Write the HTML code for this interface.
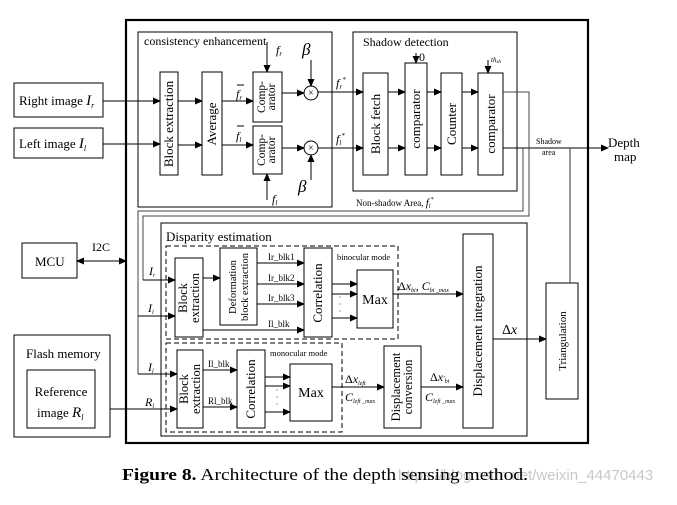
<!DOCTYPE html>
<html><head><meta charset="utf-8"><style>
html,body{margin:0;padding:0;background:#fff;}
svg{display:block;font-family:"Liberation Serif",serif;}
</style></head><body>
<svg width="677" height="505" viewBox="0 0 677 505" xmlns="http://www.w3.org/2000/svg">
<defs>
<marker id="a" markerWidth="8" markerHeight="8" refX="7" refY="4" orient="auto" markerUnits="userSpaceOnUse"><path d="M0,0.5 L8,4 L0,7.5 z" fill="#000"/></marker>
<marker id="b" markerWidth="8" markerHeight="8" refX="1" refY="4" orient="auto" markerUnits="userSpaceOnUse"><path d="M8,0.5 L0,4 L8,7.5 z" fill="#000"/></marker>
</defs>
<g fill="none" stroke="#000" stroke-width="1">
<rect x="126" y="20" width="462" height="423" stroke-width="2.2"/>
<rect x="14" y="83" width="89" height="34"/>
<rect x="14" y="128" width="89" height="30"/>
<rect x="22" y="243" width="55" height="35"/>
<rect x="14" y="335" width="96" height="102"/>
<rect x="27" y="370" width="68" height="58"/>
<rect x="138" y="32" width="194" height="175"/>
<rect x="160" y="72" width="18" height="103"/>
<rect x="202" y="72" width="20" height="103"/>
<rect x="253" y="72" width="29" height="50"/>
<rect x="253" y="126" width="29" height="48"/>
<circle cx="311" cy="93" r="7"/>
<circle cx="311" cy="148" r="7"/>
<rect x="353" y="32" width="164" height="159"/>
<rect x="363" y="73" width="25" height="102"/>
<rect x="405" y="63" width="22" height="112"/>
<rect x="441" y="73" width="21" height="102"/>
<rect x="478" y="73" width="25" height="102"/>
<rect x="161" y="223" width="366" height="213"/>
<rect x="166" y="246" width="232" height="93" stroke-dasharray="5,3"/>
<rect x="166" y="343" width="176" height="89" stroke-dasharray="5,3"/>
<rect x="175" y="258" width="28" height="79"/>
<rect x="220" y="248" width="37" height="77"/>
<rect x="304" y="248" width="28" height="89"/>
<rect x="357" y="270" width="36" height="58"/>
<rect x="463" y="234" width="30" height="194"/>
<rect x="177" y="350" width="26" height="78"/>
<rect x="237" y="350" width="28" height="78"/>
<rect x="290" y="364" width="42" height="57"/>
<rect x="384" y="346" width="37" height="82"/>
<rect x="546" y="283" width="32" height="116"/>
<line x1="103" y1="101" x2="160" y2="101" marker-end="url(#a)"/>
<line x1="103" y1="144" x2="160" y2="144" marker-end="url(#a)"/>
<line x1="77" y1="261" x2="126" y2="261" marker-start="url(#b)" marker-end="url(#a)"/>
<line x1="110" y1="409" x2="177" y2="409" marker-end="url(#a)"/>
<line x1="178" y1="101" x2="202" y2="101" marker-end="url(#a)"/>
<line x1="178" y1="145" x2="202" y2="145" marker-end="url(#a)"/>
<line x1="222" y1="101" x2="253" y2="101" marker-end="url(#a)"/>
<line x1="222" y1="145" x2="253" y2="145" marker-end="url(#a)"/>
<line x1="282" y1="93" x2="304" y2="93" marker-end="url(#a)"/>
<line x1="282" y1="148" x2="304" y2="148" marker-end="url(#a)"/>
<line x1="267" y1="42" x2="267" y2="72" marker-end="url(#a)"/>
<line x1="267" y1="200" x2="267" y2="174" marker-end="url(#a)"/>
<line x1="311" y1="60" x2="311" y2="86" marker-end="url(#a)"/>
<line x1="311" y1="180" x2="311" y2="155" marker-end="url(#a)"/>
<line x1="318" y1="92" x2="363" y2="92" marker-end="url(#a)"/>
<line x1="318" y1="148" x2="363" y2="148" marker-end="url(#a)"/>
<line x1="388" y1="92" x2="405" y2="92" marker-end="url(#a)"/>
<line x1="388" y1="148" x2="405" y2="148" marker-end="url(#a)"/>
<line x1="427" y1="92" x2="441" y2="92" marker-end="url(#a)"/>
<line x1="427" y1="148" x2="441" y2="148" marker-end="url(#a)"/>
<line x1="462" y1="92" x2="478" y2="92" marker-end="url(#a)"/>
<line x1="462" y1="148" x2="478" y2="148" marker-end="url(#a)"/>
<line x1="416" y1="53" x2="416" y2="63" marker-end="url(#a)"/>
<line x1="488" y1="60" x2="488" y2="73" marker-end="url(#a)"/>
<line x1="503" y1="148" x2="608" y2="148" marker-end="url(#a)"/>
<line x1="570" y1="148" x2="570" y2="283" stroke="#333"/>
<g stroke="#444">
<polyline points="503,92 529,92 529,216 143,216 143,280"/>
<polyline points="523,148 523,211 138,211 138,374"/>
</g>
<line x1="143" y1="280" x2="175" y2="280" marker-end="url(#a)"/>
<line x1="138" y1="316" x2="175" y2="316" marker-end="url(#a)"/>
<line x1="138" y1="374" x2="177" y2="374" marker-end="url(#a)"/>
<line x1="203" y1="278" x2="220" y2="278" marker-end="url(#a)"/>
<line x1="257" y1="263" x2="304" y2="263" marker-end="url(#a)"/>
<line x1="257" y1="284" x2="304" y2="284" marker-end="url(#a)"/>
<line x1="257" y1="304" x2="304" y2="304" marker-end="url(#a)"/>
<line x1="203" y1="330" x2="304" y2="330" marker-end="url(#a)"/>
<line x1="332" y1="284" x2="357" y2="284" marker-end="url(#a)"/>
<line x1="332" y1="294" x2="357" y2="294" marker-end="url(#a)"/>
<line x1="332" y1="318" x2="357" y2="318" marker-end="url(#a)"/>
<line x1="393" y1="294" x2="463" y2="294" marker-end="url(#a)"/>
<line x1="203" y1="370" x2="237" y2="370" marker-end="url(#a)"/>
<line x1="203" y1="407" x2="237" y2="407" marker-end="url(#a)"/>
<line x1="265" y1="377" x2="290" y2="377" marker-end="url(#a)"/>
<line x1="265" y1="386" x2="290" y2="386" marker-end="url(#a)"/>
<line x1="265" y1="412" x2="290" y2="412" marker-end="url(#a)"/>
<line x1="332" y1="387" x2="384" y2="387" marker-end="url(#a)"/>
<line x1="421" y1="387" x2="463" y2="387" marker-end="url(#a)"/>
<line x1="493" y1="339" x2="546" y2="339" marker-end="url(#a)"/>
<line x1="237" y1="85" x2="244" y2="85"/>
<line x1="237" y1="126" x2="244" y2="126"/>
</g>
<g font-size="9" text-anchor="middle">
<text x="311" y="93" dy="3" font-size="10">×</text>
<text x="311" y="148" dy="3" font-size="10">×</text>
</g>
<g font-size="13" fill="#000">
<text x="19" y="105">Right image <tspan font-style="italic" font-size="15">I</tspan><tspan font-style="italic" font-size="8" dy="3">r</tspan></text>
<text x="19" y="148">Left image <tspan font-style="italic" font-size="15">I</tspan><tspan font-style="italic" font-size="8" dy="3">l</tspan></text>
<text x="35" y="266">MCU</text>
<text x="92" y="251" font-size="12">I2C</text>
<text x="26" y="358">Flash memory</text>
<text x="61" y="396" text-anchor="middle">Reference</text>
<text x="37" y="417">image <tspan font-style="italic" font-size="15">R</tspan><tspan font-style="italic" font-size="8" dy="3">l</tspan></text>
<text x="144" y="45" font-size="12">consistency enhancement</text>
<text x="363" y="46" font-size="12">Shadow detection</text>
<text x="166" y="241" font-size="13">Disparity estimation</text>
<text x="608" y="147">Depth</text>
<text x="614" y="161">map</text>
</g>
<g font-size="13" font-style="italic">
<text x="276" y="54" font-size="12">f<tspan font-size="7" dy="2">r</tspan></text>
<text x="272" y="203" font-size="12">f<tspan font-size="7" dy="2">l</tspan></text>
<text x="302" y="55" font-size="17">β</text>
<text x="298" y="192" font-size="17">β</text>
<text x="236" y="98" font-size="12">f<tspan font-size="7" dy="2">r</tspan></text>
<text x="236" y="140" font-size="12">f<tspan font-size="7" dy="2">l</tspan></text>
<text x="336" y="87" font-size="12">f<tspan font-size="7" dy="2">r</tspan><tspan font-size="7" dy="-7">*</tspan></text>
<text x="336" y="143" font-size="12">f<tspan font-size="7" dy="2">l</tspan><tspan font-size="7" dy="-7">*</tspan></text>
<text x="491" y="62" font-size="7">th<tspan font-size="5" dy="1">sh</tspan></text>
<text x="149" y="275" font-size="12">I<tspan font-size="6" dy="2">r</tspan></text>
<text x="148" y="312" font-size="12">I<tspan font-size="6" dy="2">l</tspan></text>
<text x="148" y="371" font-size="12">I<tspan font-size="6" dy="2">l</tspan></text>
<text x="145" y="406" font-size="12">R<tspan font-size="6" dy="2">l</tspan></text>
</g>
<text x="419" y="61" font-size="12">0</text>
<text x="356" y="206" font-size="9">Non-shadow Area, <tspan font-style="italic" font-size="11">f</tspan><tspan font-style="italic" font-size="6" dy="2">l</tspan><tspan font-style="italic" font-size="6" dy="-7">*</tspan></text>
<text x="536" y="144" font-size="8">Shadow</text>
<text x="542" y="155" font-size="8">area</text>
<g font-size="9">
<text x="268" y="260">Ir_blk1</text>
<text x="268" y="281">Ir_blk2</text>
<text x="268" y="301">Ir_blk3</text>
<text x="268" y="327">Il_blk</text>
<text x="337" y="260" font-size="8.5">binocular mode</text>
<text x="270" y="356" font-size="8.5">monocular mode</text>
<text x="208" y="367">Il_blk</text>
<text x="208" y="404">Rl_blk</text>
</g>
<g font-size="12">
<text x="398" y="290">Δ<tspan font-style="italic">x</tspan><tspan font-size="6" font-style="italic" dy="2">bi</tspan><tspan dy="-2">, </tspan><tspan font-style="italic">C</tspan><tspan font-size="6" font-style="italic" dy="2">bi _max</tspan></text>
<text x="345" y="383">Δ<tspan font-style="italic">x</tspan><tspan font-size="6" font-style="italic" dy="2">left</tspan></text>
<text x="345" y="401" font-style="italic">C<tspan font-size="6" dy="2">left _max</tspan></text>
<text x="430" y="381">Δ<tspan font-style="italic">x</tspan><tspan font-size="7" font-style="italic">′</tspan><tspan font-size="6" font-style="italic" dy="2">bi</tspan></text>
<text x="425" y="401" font-style="italic">C<tspan font-size="6" dy="2">left _max</tspan></text>
<text x="502" y="334" font-size="14">Δ<tspan font-style="italic">x</tspan></text>
</g>
<g font-size="8" fill="#000">
<text x="340" y="300" text-anchor="middle">·</text><text x="340" y="307" text-anchor="middle">·</text><text x="340" y="314" text-anchor="middle">·</text>
<text x="277" y="393" text-anchor="middle">·</text><text x="277" y="400" text-anchor="middle">·</text><text x="277" y="407" text-anchor="middle">·</text>
</g>
<g font-size="13" text-anchor="middle">
<text transform="translate(173,124) rotate(-90)">Block extraction</text>
<text transform="translate(216,124) rotate(-90)">Average</text>
<text transform="translate(266,97) rotate(-90)" font-size="11.5"><tspan x="0" dy="-1">Comp-</tspan><tspan x="0" dy="10">arator</tspan></text>
<text transform="translate(266,150) rotate(-90)" font-size="11.5"><tspan x="0" dy="-1">Comp-</tspan><tspan x="0" dy="10">arator</tspan></text>
<text transform="translate(380,124) rotate(-90)">Block fetch</text>
<text transform="translate(420,119) rotate(-90)">comparator</text>
<text transform="translate(456,124) rotate(-90)">Counter</text>
<text transform="translate(495,124) rotate(-90)">comparator</text>
<text transform="translate(189,298) rotate(-90)" font-size="12.5"><tspan x="0" dy="-2">Block</tspan><tspan x="0" dy="12">extraction</tspan></text>
<text transform="translate(238,287) rotate(-90)" font-size="10.5"><tspan x="0" dy="-2">Deformation</tspan><tspan x="0" dy="12">block extraction</tspan></text>
<text transform="translate(322,293) rotate(-90)">Correlation</text>
<text x="375" y="304" font-size="14">Max</text>
<text transform="translate(482,331) rotate(-90)">Displacement integration</text>
<text transform="translate(190,389) rotate(-90)" font-size="12.5"><tspan x="0" dy="-2">Block</tspan><tspan x="0" dy="12">extraction</tspan></text>
<text transform="translate(255,389) rotate(-90)">Correlation</text>
<text x="311" y="397" font-size="14">Max</text>
<text transform="translate(402,387) rotate(-90)" font-size="12.5"><tspan x="0" dy="-2">Displacement</tspan><tspan x="0" dy="12">conversion</tspan></text>
<text transform="translate(566,341) rotate(-90)" font-size="11">Triangulation</text>
</g>
<text x="398" y="480" font-family="Liberation Sans,sans-serif" font-size="15" fill="#c8c8c8">https://blog.csdn.net/weixin_44470443</text>
<text x="122" y="480" font-size="17" textLength="406" lengthAdjust="spacingAndGlyphs"><tspan font-weight="bold">Figure 8.</tspan> Architecture of the depth sensing method.</text>
</svg>
</body></html>
